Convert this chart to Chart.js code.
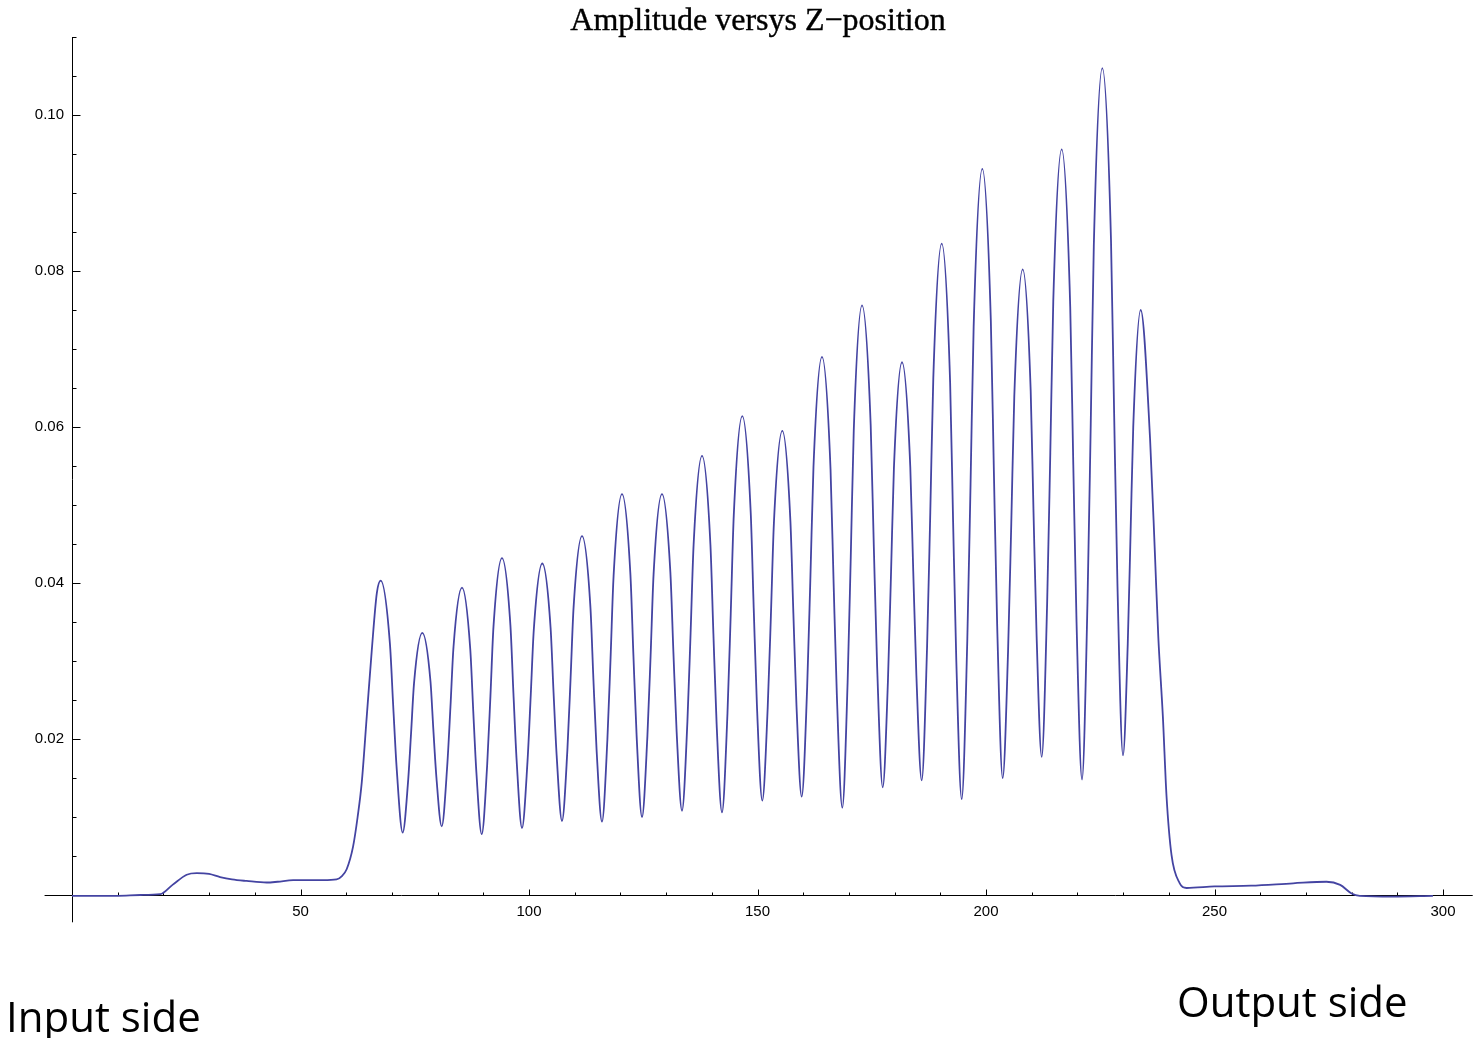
<!DOCTYPE html>
<html lang="en">
<head>
    <meta charset="UTF-8">
    <title>Amplitude versys Z-position</title>
    <!-- Chart.js -->
    <script src="https://cdn.jsdelivr.net/npm/chart.js@4.4.0/dist/chart.umd.min.js"></script>
    <style>
        html, body {
            margin: 0;
            padding: 0;
            background: #ffffff;
            overflow: hidden;
        }
        .wrap {
            position: relative;
            width: 1474px;
            height: 1038px;
            overflow: hidden;
        }
        #ampChart {
            position: absolute;
            left: 0;
            top: 0;
        }
        .plot-title {
            position: absolute;
            top: 3px;
            left: 758px;
            transform: translateX(-50%);
            white-space: nowrap;
            font-family: "Liberation Serif", "DejaVu Serif", serif;
            font-size: 32px;
            line-height: 32px;
            color: #000;
            -webkit-text-stroke: 0.4px #000;
        }
        .side-label {
            position: absolute;
            white-space: nowrap;
            font-family: "Open Sans", "Noto Sans", sans-serif;
            font-size: 42px;
            line-height: 42px;
            color: #000;
        }
        .input-side { left: 6px; top: 995px; }
        .output-side { left: 1177px; top: 980px; }
    </style>
</head>
<body>
    <div class="wrap">
        <canvas id="ampChart" width="1474" height="1038"></canvas>
        <div class="plot-title">Amplitude versys Z&minus;position</div>
        <div class="side-label input-side">Input side</div>
        <div class="side-label output-side">Output side</div>
    </div>

    <script>
        // Input side: flat baseline, small bump, then the steep rise
        const inputZ = [0, 5, 10, 15, 19.3, 22, 25.1, 27.3, 30, 32.4, 35, 38.2, 42.6, 45, 48.4, 52, 55, 57.9,
                        59.0, 60.1, 61.5, 62.5, 63.4, 64.5, 65.6, 66.7];
        const inputAmp = [-0.0001, -0.0001, -0.0001, 0, 0.0001, 0.0013, 0.0026, 0.0028, 0.0027, 0.0023, 0.0020, 0.0018, 0.0016, 0.0017, 0.0019, 0.0019, 0.0019, 0.0020,
                          0.0024, 0.0033, 0.0062, 0.0100, 0.0144, 0.0229, 0.0314, 0.0387];

        // Fringes, one row per period: peak, 3/4, 1/2, 1/4 down, trough, 1/4, 1/2, 3/4 up
        const fringeZ = [
            67.55, 69.57, 70.29, 71.06, 72.36, 73.52, 74.20, 74.85,
            76.65, 78.44, 79.07, 79.75, 80.90, 82.10, 82.81, 83.48,
            85.34, 87.15, 87.80, 88.49, 89.65, 90.85, 91.56, 92.23,
            94.09, 95.93, 96.59, 97.29, 98.47, 99.67, 100.38, 101.05,
            102.91, 104.72, 105.37, 106.06, 107.22, 108.40, 109.10, 109.76,
            111.60, 113.44, 114.09, 114.79, 115.97, 117.15, 117.85, 118.51,
            120.35, 122.19, 122.85, 123.55, 124.73, 125.91, 126.61, 127.26,
            129.10, 130.94, 131.60, 132.30, 133.48, 134.66, 135.36, 136.02,
            137.86, 139.70, 140.35, 141.05, 142.23, 143.43, 144.14, 144.81,
            146.67, 148.51, 149.17, 149.87, 151.05, 152.23, 152.93, 153.59,
            155.43, 157.21, 157.85, 158.53, 159.67, 160.87, 161.58, 162.25,
            164.11, 165.98, 166.65, 167.36, 168.56, 169.72, 170.41, 171.06,
            172.87, 174.77, 175.45, 176.18, 177.40, 178.54, 179.21, 179.85,
            181.62, 183.43, 184.08, 184.77, 185.93, 187.11, 187.81, 188.47,
            190.31, 192.15, 192.80, 193.50, 194.68, 195.90, 196.62, 197.30,
            199.19, 201.06, 201.73, 202.45, 203.65, 204.83, 205.53, 206.19,
            208.03, 209.78, 210.40, 211.07, 212.19, 213.37, 214.07, 214.72,
            216.56, 218.43, 219.10, 219.81, 221.01, 222.21, 222.92, 223.59,
            225.45, 227.35, 228.03, 228.76, 229.98, 231.02, 231.64, 232.22,
            233.85
        ];
        const fringeAmp = [
            0.0403, 0.0322, 0.0242, 0.0161, 0.0080, 0.0144, 0.0208, 0.0272,
            0.0336, 0.0274, 0.0212, 0.0150, 0.0088, 0.0165, 0.0241, 0.0318,
            0.0394, 0.0315, 0.0236, 0.0157, 0.0078, 0.0167, 0.0255, 0.0344,
            0.0432, 0.0346, 0.0259, 0.0173, 0.0086, 0.0171, 0.0256, 0.0340,
            0.0425, 0.0343, 0.0260, 0.0178, 0.0095, 0.0186, 0.0278, 0.0369,
            0.0460, 0.0369, 0.0277, 0.0186, 0.0094, 0.0199, 0.0304, 0.0409,
            0.0514, 0.0411, 0.0307, 0.0204, 0.0100, 0.0204, 0.0307, 0.0411,
            0.0514, 0.0413, 0.0311, 0.0210, 0.0108, 0.0222, 0.0336, 0.0449,
            0.0563, 0.0449, 0.0335, 0.0220, 0.0106, 0.0233, 0.0360, 0.0487,
            0.0614, 0.0491, 0.0368, 0.0244, 0.0121, 0.0240, 0.0358, 0.0477,
            0.0595, 0.0478, 0.0361, 0.0243, 0.0126, 0.0267, 0.0408, 0.0549,
            0.0690, 0.0546, 0.0401, 0.0257, 0.0112, 0.0273, 0.0434, 0.0595,
            0.0756, 0.0602, 0.0447, 0.0293, 0.0138, 0.0274, 0.0411, 0.0547,
            0.0683, 0.0549, 0.0415, 0.0281, 0.0147, 0.0319, 0.0491, 0.0663,
            0.0835, 0.0657, 0.0479, 0.0301, 0.0123, 0.0325, 0.0527, 0.0729,
            0.0931, 0.0736, 0.0541, 0.0345, 0.0150, 0.0313, 0.0476, 0.0639,
            0.0802, 0.0646, 0.0490, 0.0333, 0.0177, 0.0372, 0.0567, 0.0761,
            0.0956, 0.0754, 0.0552, 0.0350, 0.0148, 0.0376, 0.0604, 0.0832,
            0.1060, 0.0840, 0.0620, 0.0399, 0.0179, 0.0322, 0.0465, 0.0600,
            0.0750
        ];

        // Output side: fall-off and tail
        const outputZ = [235.9, 237.0, 237.7, 238.7, 239.5, 240.6, 242.4, 243.9, 250, 258, 267.2, 274.5, 277.5, 280, 281.8, 289, 297.8];
        const outputAmp = [0.0585, 0.0432, 0.0331, 0.0229, 0.0127, 0.0051, 0.0015, 0.0009, 0.0011, 0.0012, 0.0015, 0.0017, 0.0013, 0.0002, -0.0001, -0.0002, -0.0001];

        // Axis ticks
        const xTickLabels = [50, 100, 150, 200, 250, 300];
        const yTickLabels = [0.02, 0.04, 0.06, 0.08, 0.10];

        const zPos = inputZ.concat(fringeZ, outputZ);
        const amplitude = inputAmp.concat(fringeAmp, outputAmp);

        // Mathematica-style axes crossing at the origin, ticks pointing inward
        const crossAxes = {
            id: 'crossAxes',
            beforeDatasetsDraw(chart) {
                const { ctx } = chart;
                const xs = chart.scales.x, ys = chart.scales.y;
                const x0 = Math.round(xs.getPixelForValue(0)) + 0.5;
                const y0 = Math.round(ys.getPixelForValue(0)) + 0.5;
                ctx.save();
                ctx.strokeStyle = '#000';
                ctx.lineWidth = 1;
                ctx.beginPath();
                ctx.moveTo(xs.getPixelForValue(-6), y0);
                ctx.lineTo(xs.getPixelForValue(306.5), y0);
                ctx.moveTo(x0, ys.getPixelForValue(-0.0035));
                ctx.lineTo(x0, ys.getPixelForValue(0.11));
                // x ticks every 10
                for (let v = 10; v <= 300; v += 10) {
                    const px = Math.round(xs.getPixelForValue(v)) + 0.5;
                    const len = v % 50 === 0 ? 6 : 3;
                    ctx.moveTo(px, y0);
                    ctx.lineTo(px, y0 - len);
                }
                // y ticks every 0.005
                for (let i = 1; i <= 22; i++) {
                    const py = Math.round(ys.getPixelForValue(i * 0.005)) + 0.5;
                    const len = i % 4 === 0 ? 8 : 4;
                    ctx.moveTo(x0, py);
                    ctx.lineTo(x0 + len, py);
                }
                ctx.stroke();
                ctx.restore();
            }
        };

        new Chart(document.getElementById('ampChart'), {
            type: 'line',
            data: {
                datasets: [{
                    data: zPos.map((z, i) => ({ x: z, y: amplitude[i] })),
                    borderColor: 'rgb(68, 68, 162)',
                    borderWidth: 1.8,
                    pointRadius: 0,
                    fill: false,
                    cubicInterpolationMode: 'monotone',
                    clip: false
                }]
            },
            options: {
                responsive: false,
                animation: false,
                layout: { padding: { left: 0, right: 31, top: 37, bottom: 0 } },
                plugins: {
                    legend: { display: false },
                    tooltip: { enabled: false },
                    title: { display: false }
                },
                scales: {
                    x: {
                        type: 'linear',
                        position: 'bottom',
                        min: 0,
                        max: 300,
                        grid: { display: false, drawTicks: false },
                        border: { display: false },
                        afterBuildTicks: scale => { scale.ticks = xTickLabels.map(v => ({ value: v })); },
                        afterFit: scale => { scale.height = 143; },
                        ticks: {
                            color: '#000',
                            font: { family: 'Liberation Sans', size: 15 },
                            padding: 8,
                            maxRotation: 0,
                            autoSkip: false,
                            callback: v => String(v)
                        }
                    },
                    y: {
                        type: 'linear',
                        position: 'left',
                        min: 0,
                        max: 0.11,
                        grid: { display: false, drawTicks: false },
                        border: { display: false },
                        afterBuildTicks: scale => { scale.ticks = yTickLabels.map(v => ({ value: v })); },
                        afterFit: scale => { scale.width = 72; },
                        ticks: {
                            color: '#000',
                            font: { family: 'Liberation Sans', size: 15 },
                            padding: 8,
                            autoSkip: false,
                            callback: v => v.toFixed(2)
                        }
                    }
                }
            },
            plugins: [crossAxes]
        });
    </script>
</body>
</html>
